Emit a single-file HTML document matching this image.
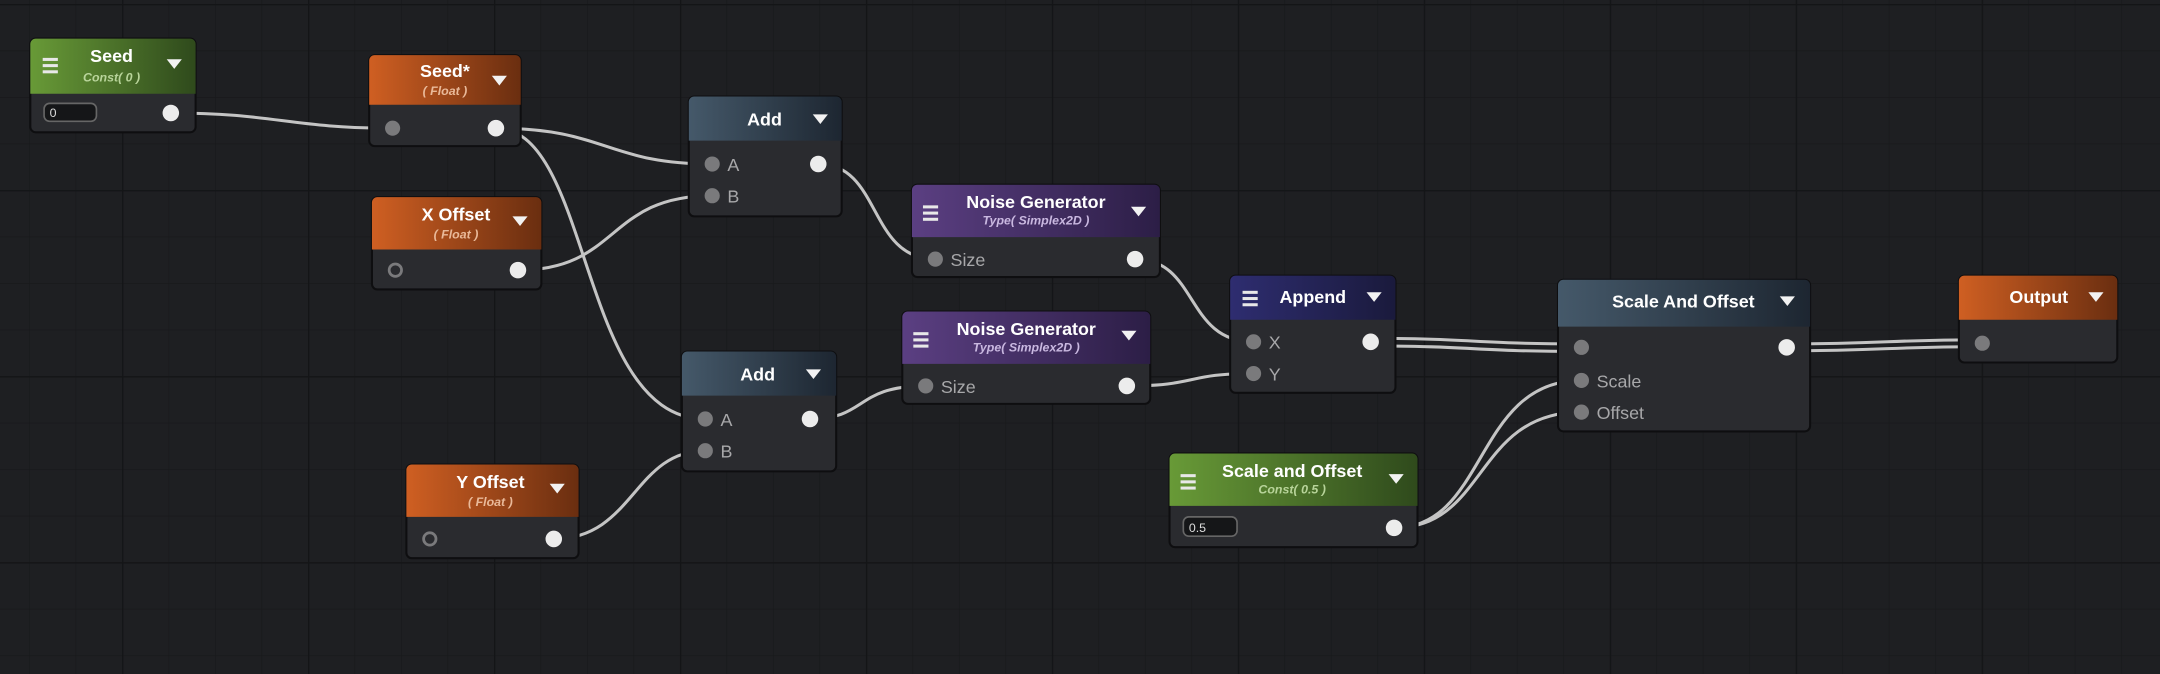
<!DOCTYPE html>
<html><head><meta charset="utf-8"><style>
html,body{margin:0;padding:0;background:#1e1f22;}
svg{display:block;}
text{font-family:"Liberation Sans",sans-serif;}
</style></head><body>
<svg width="2160" height="674" viewBox="0 0 1568 489" preserveAspectRatio="none" xmlns="http://www.w3.org/2000/svg">
<defs>
<pattern id="minor" x="88.6" y="2.9" width="33.75" height="33.75" patternUnits="userSpaceOnUse">
<path d="M0 0H33.75M0 0V33.75" stroke="#18191b" stroke-width="1" fill="none"/></pattern>
<pattern id="major" x="88.6" y="2.9" width="135" height="135" patternUnits="userSpaceOnUse">
<path d="M0 0H135M0 0V135" stroke="#141517" stroke-width="2" fill="none"/></pattern>
<linearGradient id="gG" x1="0" x2="1"><stop offset="0" stop-color="#689a37"/><stop offset="1" stop-color="#2f4a1c"/></linearGradient>
<linearGradient id="gO" x1="0" x2="1"><stop offset="0" stop-color="#cf5f22"/><stop offset="1" stop-color="#6a2e10"/></linearGradient>
<linearGradient id="gB" x1="0" x2="1"><stop offset="0" stop-color="#45596a"/><stop offset="1" stop-color="#1d2631"/></linearGradient>
<linearGradient id="gP" x1="0" x2="1"><stop offset="0" stop-color="#5b3f82"/><stop offset="1" stop-color="#2c1e46"/></linearGradient>
<linearGradient id="gN" x1="0" x2="1"><stop offset="0" stop-color="#2e2d70"/><stop offset="1" stop-color="#1a1a3c"/></linearGradient>
</defs>
<rect width="1568" height="489" fill="#1e1f22"/>
<rect width="1568" height="489" fill="url(#minor)"/>
<rect width="1568" height="489" fill="url(#major)"/>

<g fill="none" stroke="#c4c4c4" stroke-width="2.2" stroke-linecap="round">
<path d="M124 82 C200 82,210 93,285 93"/>
<path d="M360 93 C440 93,440 119,517 119"/>
<path d="M360 93 C430 93,420 304,512 304"/>
<path d="M376 196 C450 196,440 142,517 142"/>
<path d="M402 391 C460 391,460 327,512 327"/>
<path d="M594 119 C640 119,630 188,679 188"/>
<path d="M588 304 C630 304,620 280,672 280"/>
<path d="M824 188 C870 188,860 248,910 248"/>
<path d="M818 280 C870 280,860 271,910 271"/>
<path d="M1012 383 C1080 383,1070 276,1148 276"/>
<path d="M1012 383 C1080 383,1070 299,1148 299"/>
<path d="M995 245.5 C1070 245.5,1070 249.5,1148 249.5"/>
<path d="M995 251 C1070 251,1070 255,1148 255"/>
<path d="M1297 254.5 C1370 254.5,1370 251.5,1439 251.5"/>
<path d="M1297 249.5 C1370 249.5,1370 246.5,1439 246.5"/>
</g>

<!-- node helper style -->
<g stroke="#0e0e10" stroke-width="1.5">
<!-- Seed -->
<rect x="22" y="28" width="120" height="68" rx="4" fill="#2a2b2f"/>
<path d="M22 68V32a4 4 0 0 1 4-4h112a4 4 0 0 1 4 4v36z" fill="url(#gG)" stroke="none"/>
<!-- Seed* -->
<rect x="268" y="40" width="110" height="66" rx="4" fill="#2a2b2f"/>
<path d="M268 76V44a4 4 0 0 1 4-4h102a4 4 0 0 1 4 4v32z" fill="url(#gO)" stroke="none"/>
<!-- X Offset -->
<rect x="270" y="143" width="123" height="67" rx="4" fill="#2a2b2f"/>
<path d="M270 181V147a4 4 0 0 1 4-4h115a4 4 0 0 1 4 4v34z" fill="url(#gO)" stroke="none"/>
<!-- Y Offset -->
<rect x="295" y="337" width="125" height="68" rx="4" fill="#2a2b2f"/>
<path d="M295 375V341a4 4 0 0 1 4-4h117a4 4 0 0 1 4 4v34z" fill="url(#gO)" stroke="none"/>
<!-- Add1 -->
<rect x="500" y="70" width="111" height="87" rx="4" fill="#2a2b2f"/>
<path d="M500 102V74a4 4 0 0 1 4-4h103a4 4 0 0 1 4 4v28z" fill="url(#gB)" stroke="none"/>
<!-- Add2 -->
<rect x="495" y="255" width="112" height="87" rx="4" fill="#2a2b2f"/>
<path d="M495 287V259a4 4 0 0 1 4-4h104a4 4 0 0 1 4 4v28z" fill="url(#gB)" stroke="none"/>
<!-- Noise1 -->
<rect x="662" y="134" width="180" height="67" rx="4" fill="#2a2b2f"/>
<path d="M662 172V138a4 4 0 0 1 4-4h172a4 4 0 0 1 4 4v34z" fill="url(#gP)" stroke="none"/>
<!-- Noise2 -->
<rect x="655" y="226" width="180" height="67" rx="4" fill="#2a2b2f"/>
<path d="M655 264V230a4 4 0 0 1 4-4h172a4 4 0 0 1 4 4v34z" fill="url(#gP)" stroke="none"/>
<!-- Append -->
<rect x="893" y="200" width="120" height="85" rx="4" fill="#2a2b2f"/>
<path d="M893 232V204a4 4 0 0 1 4-4h112a4 4 0 0 1 4 4v28z" fill="url(#gN)" stroke="none"/>
<!-- Scale And Offset -->
<rect x="1131" y="203" width="183" height="110" rx="4" fill="#2a2b2f"/>
<path d="M1131 237V207a4 4 0 0 1 4-4h175a4 4 0 0 1 4 4v30z" fill="url(#gB)" stroke="none"/>
<!-- Const Scale and Offset -->
<rect x="849" y="329" width="180" height="68" rx="4" fill="#2a2b2f"/>
<path d="M849 367V333a4 4 0 0 1 4-4h172a4 4 0 0 1 4 4v34z" fill="url(#gG)" stroke="none"/>
<!-- Output -->
<rect x="1422" y="200" width="115" height="63" rx="4" fill="#2a2b2f"/>
<path d="M1422 232V204a4 4 0 0 1 4-4h107a4 4 0 0 1 4 4v28z" fill="url(#gO)" stroke="none"/>
</g>

<!-- hamburger icons -->
<g fill="#e8e8e8">
<rect x="31" y="42" width="11" height="2.2"/><rect x="31" y="46.5" width="11" height="2.2"/><rect x="31" y="51" width="11" height="2.2"/>
<rect x="670" y="149" width="11" height="2.2"/><rect x="670" y="153.5" width="11" height="2.2"/><rect x="670" y="158" width="11" height="2.2"/>
<rect x="663" y="241" width="11" height="2.2"/><rect x="663" y="245.5" width="11" height="2.2"/><rect x="663" y="250" width="11" height="2.2"/>
<rect x="902" y="211" width="11" height="2.2"/><rect x="902" y="215.5" width="11" height="2.2"/><rect x="902" y="220" width="11" height="2.2"/>
<rect x="857" y="344" width="11" height="2.2"/><rect x="857" y="348.5" width="11" height="2.2"/><rect x="857" y="353" width="11" height="2.2"/>
</g>
<!-- dropdown triangles -->
<g fill="#f2f2f2">
<path d="M121 43h11l-5.5 7z"/>
<path d="M357 55h11l-5.5 7z"/>
<path d="M372 157h11l-5.5 7z"/>
<path d="M399 351h11l-5.5 7z"/>
<path d="M590 83h11l-5.5 7z"/>
<path d="M585 268h11l-5.5 7z"/>
<path d="M821 150h11l-5.5 7z"/>
<path d="M814 240h11l-5.5 7z"/>
<path d="M992 212h11l-5.5 7z"/>
<path d="M1292 215h11l-5.5 7z"/>
<path d="M1008 344h11l-5.5 7z"/>
<path d="M1516 212h11l-5.5 7z"/>
</g>

<!-- titles -->
<g fill="#ffffff" font-weight="bold" font-size="13" text-anchor="middle">
<text x="81" y="45">Seed</text>
<text x="323" y="56">Seed*</text>
<text x="331" y="160">X Offset</text>
<text x="356" y="354">Y Offset</text>
<text x="555" y="91">Add</text>
<text x="550" y="276">Add</text>
<text x="752" y="151">Noise Generator</text>
<text x="745" y="243">Noise Generator</text>
<text x="953" y="220">Append</text>
<text x="1222" y="223">Scale And Offset</text>
<text x="938" y="346">Scale and Offset</text>
<text x="1480" y="220">Output</text>
</g>
<g font-style="italic" font-weight="bold" font-size="9" text-anchor="middle">
<text x="81" y="59" fill="#b8d49a">Const( 0 )</text>
<text x="323" y="69" fill="#e9b999">( Float )</text>
<text x="331" y="173" fill="#e9b999">( Float )</text>
<text x="356" y="367" fill="#e9b999">( Float )</text>
<text x="752" y="163" fill="#c9b8e0">Type( Simplex2D )</text>
<text x="745" y="255" fill="#c9b8e0">Type( Simplex2D )</text>
<text x="938" y="358" fill="#b8d49a">Const( 0.5 )</text>
</g>

<!-- input fields -->
<rect x="32" y="75" width="38" height="13" rx="4" fill="#151618" stroke="#666" stroke-width="1.2"/>
<text x="36" y="85" fill="#ddd" font-size="9">0</text>
<rect x="859" y="375" width="39" height="14" rx="4" fill="#151618" stroke="#666" stroke-width="1.2"/>
<text x="863" y="386" fill="#ddd" font-size="9">0.5</text>

<!-- ports -->
<g fill="#7a7a7c">
<circle cx="285" cy="93" r="5.5"/>
<circle cx="517" cy="119" r="5.5"/><circle cx="517" cy="142" r="5.5"/>
<circle cx="512" cy="304" r="5.5"/><circle cx="512" cy="327" r="5.5"/>
<circle cx="679" cy="188" r="5.5"/><circle cx="672" cy="280" r="5.5"/>
<circle cx="910" cy="248" r="5.5"/><circle cx="910" cy="271" r="5.5"/>
<circle cx="1148" cy="252" r="5.5"/><circle cx="1148" cy="276" r="5.5"/><circle cx="1148" cy="299" r="5.5"/>
<circle cx="1439" cy="249" r="5.5"/>
</g>
<g fill="none" stroke="#7a7a7c" stroke-width="2">
<circle cx="287" cy="196" r="4.5"/><circle cx="312" cy="391" r="4.5"/>
</g>
<g fill="#ececec">
<circle cx="124" cy="82" r="6"/><circle cx="360" cy="93" r="6"/>
<circle cx="376" cy="196" r="6"/><circle cx="402" cy="391" r="6"/>
<circle cx="594" cy="119" r="6"/><circle cx="588" cy="304" r="6"/>
<circle cx="824" cy="188" r="6"/><circle cx="818" cy="280" r="6"/>
<circle cx="995" cy="248" r="6"/><circle cx="1297" cy="252" r="6"/>
<circle cx="1012" cy="383" r="6"/>
</g>

<!-- port labels -->
<g fill="#a8a8aa" font-size="13">
<text x="528" y="124">A</text><text x="528" y="147">B</text>
<text x="523" y="309">A</text><text x="523" y="332">B</text>
<text x="690" y="193">Size</text><text x="683" y="285">Size</text>
<text x="921" y="253">X</text><text x="921" y="276">Y</text>
<text x="1159" y="281">Scale</text><text x="1159" y="304">Offset</text>
</g>
</svg>
</body></html>
